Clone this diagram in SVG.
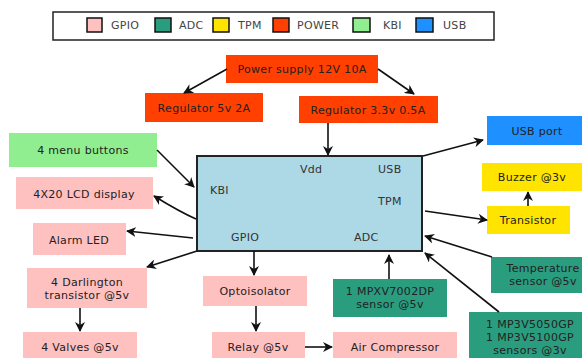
<svg xmlns="http://www.w3.org/2000/svg" width="582" height="358" viewBox="0 0 582 358">
<style>
text{font-family:"DejaVu Sans","Liberation Sans",sans-serif;font-size:11px;letter-spacing:0.3px;fill:#222;text-anchor:middle;dominant-baseline:central}
.lg{fill:#444;text-anchor:start}
.sw{stroke:#111;stroke-width:1.5}
.gpio{fill:#FFC0C0}
.adc{fill:#2A9D7F}
.tpm{fill:#FFE400}
.pow{fill:#FF4000}
.kbi{fill:#90EE90}
.usb{fill:#1E90FF}
.mcu{fill:#ADD8E6;stroke:#222;stroke-width:2}
.c{fill:none;stroke:#111;stroke-width:1.6;marker-end:url(#ah)}
.in{fill:#333;text-anchor:start}
</style>
<defs>
<marker id="ah" markerWidth="10" markerHeight="10" viewBox="0 0 10 10" refX="9" refY="5" orient="auto" markerUnits="userSpaceOnUse">
<path d="M0,0 L10,5 L0,10 L3,5 Z" fill="#111"/>
</marker>
</defs>
<rect width="582" height="358" fill="#fff"/>
<g id="legend">
<rect x="53" y="12" width="441" height="28" fill="#fff" stroke="#222" stroke-width="1.5"/>
<rect class="sw gpio" x="87" y="18" width="15" height="14"/><text class="lg" x="111" y="25">GPIO</text>
<rect class="sw adc" x="155" y="18" width="16" height="14"/><text class="lg" x="179" y="25">ADC</text>
<rect class="sw tpm" x="213" y="18" width="16" height="14"/><text class="lg" x="238" y="25">TPM</text>
<rect class="sw pow" x="273" y="18" width="16" height="14"/><text class="lg" x="297" y="25">POWER</text>
<rect class="sw kbi" x="353" y="18" width="17" height="14"/><text class="lg" x="383" y="25">KBI</text>
<rect class="sw usb" x="416" y="18" width="17" height="14"/><text class="lg" x="443" y="25">USB</text>
</g>
<g id="power-supply"><rect class="pow" x="226" y="55" width="152" height="28"/><text x="302" y="69">Power supply 12V 10A</text></g>
<g id="reg5"><rect class="pow" x="145" y="93" width="118" height="29"/><text x="204" y="108">Regulator 5v 2A</text></g>
<g id="reg33"><rect class="pow" x="299" y="96" width="139" height="27"/><text x="368" y="110">Regulator 3.3v 0.5A</text></g>
<g id="mcu"><rect class="mcu" x="197" y="156" width="225" height="95"/>
<text class="in" x="300" y="169">Vdd</text><text class="in" x="378" y="169">USB</text>
<text class="in" x="210" y="190">KBI</text><text class="in" x="378" y="201">TPM</text>
<text class="in" x="231" y="237">GPIO</text><text class="in" x="354" y="237">ADC</text></g>
<g id="menu"><rect class="kbi" x="9" y="133" width="148" height="34"/><text x="83" y="150">4 menu buttons</text></g>
<g id="lcd"><rect class="gpio" x="16" y="177" width="137" height="32"/><text x="84" y="194">4X20 LCD display</text></g>
<g id="led"><rect class="gpio" x="33" y="223" width="93" height="32"/><text x="79" y="240">Alarm LED</text></g>
<g id="darlington"><rect class="gpio" x="27" y="268" width="120" height="40"/><text x="87" y="282">4 Darlington</text><text x="87" y="295">transistor @5v</text></g>
<g id="valves"><rect class="gpio" x="23" y="332" width="114" height="30"/><text x="80" y="347">4 Valves @5v</text></g>
<g id="opto"><rect class="gpio" x="203" y="276" width="104" height="30"/><text x="255" y="291">Optoisolator</text></g>
<g id="relay"><rect class="gpio" x="212" y="332" width="93" height="30"/><text x="258" y="347">Relay @5v</text></g>
<g id="compressor"><rect class="gpio" x="333" y="332" width="124" height="30"/><text x="395" y="347">Air Compressor</text></g>
<g id="mpxv"><rect class="adc" x="333" y="279" width="114" height="38"/><text x="390" y="291">1 MPXV7002DP</text><text x="390" y="304">sensor @5v</text></g>
<g id="temp"><rect class="adc" x="491" y="257" width="95" height="36"/><text x="543" y="268">Temperature</text><text x="543" y="281">sensor @5v</text></g>
<g id="mp3v"><rect class="adc" x="469" y="312" width="117" height="50"/><text x="530" y="324">1 MP3V5050GP</text><text x="530" y="337">1 MP3V5100GP</text><text x="530" y="350">sensors @3v</text></g>
<g id="usbport"><rect class="usb" x="487" y="116" width="99" height="29"/><text x="537" y="131">USB port</text></g>
<g id="buzzer"><rect class="tpm" x="482" y="163" width="104" height="28"/><text x="532" y="177">Buzzer @3v</text></g>
<g id="transistor"><rect class="tpm" x="487" y="206" width="83" height="28"/><text x="528" y="220">Transistor</text></g>
<g id="connectors">
<path class="c" d="M227,69 L184,93"/>
<path class="c" d="M378,69 L414,94"/>
<path class="c" d="M328,123 L328,155"/>
<path class="c" d="M423,156 L483,140"/>
<path class="c" d="M425,211 L487,220"/>
<path class="c" d="M528,206 L528,192"/>
<path class="c" d="M492,257 L425,236"/>
<path class="c" d="M389,279 L389,255"/>
<path class="c" d="M499,312 L425,253"/>
<path class="c" d="M157,150 L194,187"/>
<path class="c" d="M196,219 Q180,212 154,196"/>
<path class="c" d="M193,238 L127,231"/>
<path class="c" d="M197,251 L147,267"/>
<path class="c" d="M80,308 L80,331"/>
<path class="c" d="M254,251 L254,275"/>
<path class="c" d="M256,306 L256,331"/>
<path class="c" d="M305,347 L332,347"/>
</g>
</svg>
